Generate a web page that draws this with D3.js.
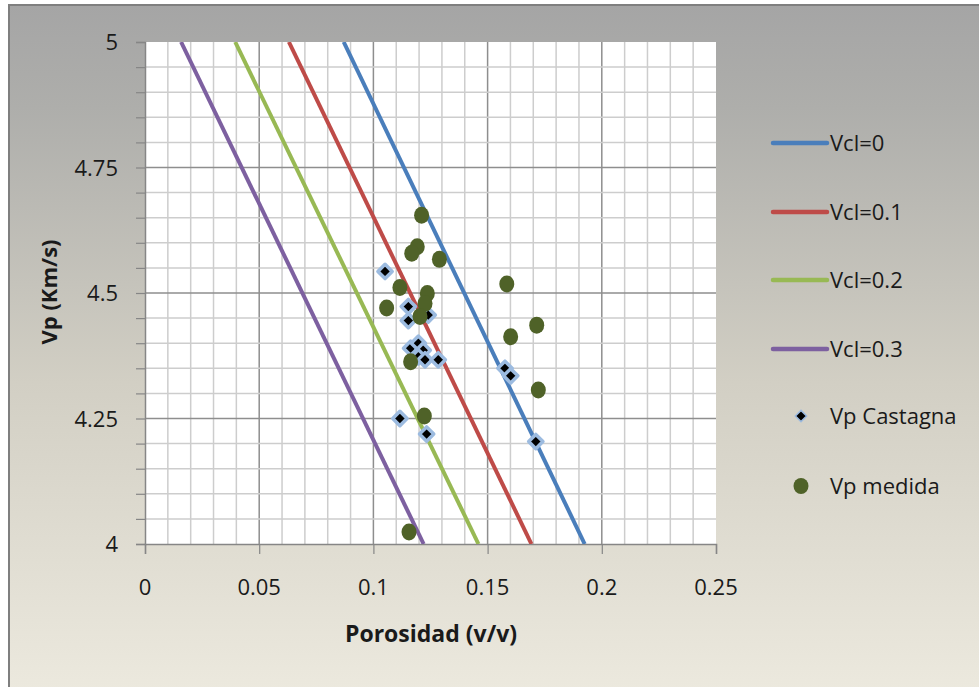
<!DOCTYPE html>
<meta charset="utf-8">
<script src="https://d3js.org/d3.v7.min.js"></script>
<style>
  body { margin: 0; background: #ffffff; }
  text { font-family: "Open Sans", "Noto Sans", sans-serif; fill: #1a1a1a; }
</style>
<div id="chart"></div>
<script>
  // axis ticks
  var xTicks = [0, 0.05, 0.1, 0.15, 0.2, 0.25];
  var yTicks = [4, 4.25, 4.5, 4.75, 5];

  // Vcl lines: porosity where each line crosses Vp=5 and Vp=4
  var lineNames = ["Vcl=0", "Vcl=0.1", "Vcl=0.2", "Vcl=0.3"];
  var lineTopPhi = [0.087, 0.063, 0.0395, 0.0158];
  var lineBottomPhi = [0.1925, 0.1692, 0.146, 0.122];
  var lineTopVp = 5, lineBottomVp = 4;

  // Vp Castagna
  var castagnaPhi = [0.1051, 0.1153, 0.1153, 0.1240, 0.1163, 0.1197, 0.1218, 0.1197, 0.1226, 0.1284, 0.1576, 0.1601, 0.1116, 0.1233, 0.1711];
  var castagnaVp  = [4.543, 4.473, 4.445, 4.456, 4.390, 4.400, 4.386, 4.373, 4.367, 4.367, 4.350, 4.335, 4.250, 4.219, 4.204];

  // Vp medida
  var medidaPhi = [0.1211, 0.1192, 0.1168, 0.1289, 0.1584, 0.1116, 0.1236, 0.1058, 0.1226, 0.1204, 0.1715, 0.1601, 0.1163, 0.1722, 0.1223, 0.1156];
  var medidaVp  = [4.655, 4.592, 4.579, 4.567, 4.518, 4.511, 4.499, 4.470, 4.479, 4.453, 4.436, 4.413, 4.363, 4.307, 4.255, 4.024];

  var lineColors = ["#4a7ebb", "#be4b48", "#98b954", "#7d60a0"];

  var W = 979, H = 687;
  var margin = {top: 42, left: 145},
      width = 571,
      height = 502;

  var svg = d3.select("#chart")
    .append("svg")
      .attr("width", W)
      .attr("height", H);

  var defs = svg.append("defs");
  var grad = defs.append("linearGradient")
      .attr("id", "bg")
      .attr("x1", 0).attr("y1", 0).attr("x2", 0).attr("y2", 1);
  grad.append("stop").attr("offset", "0%").attr("stop-color", "#a5a5a5");
  grad.append("stop").attr("offset", "15%").attr("stop-color", "#aeaeab");
  grad.append("stop").attr("offset", "55%").attr("stop-color", "#d2cfc4");
  grad.append("stop").attr("offset", "100%").attr("stop-color", "#ece9de");

  svg.append("rect")
    .attr("x", 9).attr("y", 5)
    .attr("width", W).attr("height", H)
    .attr("fill", "url(#bg)")
    .attr("stroke", "#7f7f7f")
    .attr("stroke-width", 2);

  var g = svg.append("g")
    .attr("transform", "translate(" + margin.left + "," + margin.top + ")");

  var x = d3.scaleLinear().domain([0, 0.25]).range([0, width]);
  var y = d3.scaleLinear().domain([4, 5]).range([height, 0]);

  g.append("rect")
    .attr("width", width).attr("height", height)
    .attr("fill", "#ffffff");

  // grid
  var xMinor = d3.range(1, 25).map(d => d / 100);
  var yMinor = d3.range(1, 20).map(d => 4 + d * 0.05);

  g.selectAll("line.xgrid")
    .data(xMinor)
    .enter().append("line")
      .attr("x1", d => x(d)).attr("x2", d => x(d))
      .attr("y1", 0).attr("y2", height)
      .attr("stroke", d => Math.round(d * 100) % 5 === 0 ? "#8e8e8e" : "#cdcdcd")
      .attr("stroke-width", 1.5);

  g.selectAll("line.ygrid")
    .data(yMinor)
    .enter().append("line")
      .attr("x1", 0).attr("x2", width)
      .attr("y1", d => y(d)).attr("y2", d => y(d))
      .attr("stroke", d => Math.round(d * 100) % 25 === 0 ? "#8e8e8e" : "#cdcdcd")
      .attr("stroke-width", 1.5);

  // axes
  var yAxis = g.append("g")
    .call(d3.axisLeft(y).tickValues(yMinor.concat([4, 5])).tickSize(9).tickFormat(""));
  yAxis.select(".domain").attr("stroke", "#868686").attr("stroke-width", 1.5);
  yAxis.selectAll(".tick line").attr("stroke", "#868686").attr("stroke-width", 1.2);

  var xAxis = g.append("g")
    .attr("transform", "translate(0," + height + ")")
    .call(d3.axisBottom(x).tickValues(xTicks).tickSize(10).tickFormat(""));
  xAxis.select(".domain").attr("stroke", "#868686").attr("stroke-width", 1.5);
  xAxis.selectAll(".tick line").attr("stroke", "#868686").attr("stroke-width", 1.2);

  g.selectAll("text.ylab")
    .data(yTicks)
    .enter().append("text")
      .attr("x", -27)
      .attr("y", d => y(d) + 8)
      .attr("text-anchor", "end")
      .style("font-size", "22px")
      .text(d => d);

  g.selectAll("text.xlab")
    .data(xTicks)
    .enter().append("text")
      .attr("x", d => x(d))
      .attr("y", height + 51)
      .attr("text-anchor", "middle")
      .style("font-size", "22px")
      .text(d => d);

  svg.append("text")
    .attr("x", 431)
    .attr("y", 642)
    .attr("text-anchor", "middle")
    .style("font-size", "23px")
    .style("font-weight", "bold")
    .text("Porosidad (v/v)");

  svg.append("text")
    .attr("transform", "translate(57,292) rotate(-90)")
    .attr("text-anchor", "middle")
    .style("font-size", "22px")
    .style("font-weight", "bold")
    .text("Vp (Km/s)");

  // Vcl lines
  var clip = defs.append("clipPath").attr("id", "plotclip");
  clip.append("rect").attr("width", width).attr("height", height);

  var plot = g.append("g").attr("clip-path", "url(#plotclip)");

  plot.selectAll("line.vcl")
    .data(lineNames)
    .enter().append("line")
      .attr("x1", (d, i) => x(lineTopPhi[i]))
      .attr("y1", y(lineTopVp))
      .attr("x2", (d, i) => x(lineBottomPhi[i]))
      .attr("y2", y(lineBottomVp))
      .attr("stroke", (d, i) => lineColors[i])
      .attr("stroke-width", 4);

  var diamond = d3.symbol().type(d3.symbolDiamond2).size(130);

  g.selectAll("path.castagna")
    .data(castagnaPhi)
    .enter().append("path")
      .attr("d", diamond)
      .attr("transform", (d, i) => "translate(" + x(d) + "," + y(castagnaVp[i]) + ")")
      .attr("fill", "#000000")
      .attr("stroke", "#9cbbe0")
      .attr("stroke-width", 3.5)
      .attr("stroke-linejoin", "round");

  g.selectAll("ellipse.medida")
    .data(medidaPhi)
    .enter().append("ellipse")
      .attr("cx", d => x(d))
      .attr("cy", (d, i) => y(medidaVp[i]))
      .attr("rx", 7.5)
      .attr("ry", 8.5)
      .attr("fill", "#4f6228");

  // legend
  var legY = [143, 212, 280, 349];
  var leg = svg.append("g");
  lineNames.forEach(function(name, i) {
    leg.append("line")
      .attr("x1", 773).attr("x2", 827)
      .attr("y1", legY[i]).attr("y2", legY[i])
      .attr("stroke", lineColors[i])
      .attr("stroke-width", 4.5)
      .attr("stroke-linecap", "round");
    leg.append("text")
      .attr("x", 830).attr("y", legY[i] + 8)
      .style("font-size", "22px")
      .text(name);
  });

  leg.append("path")
    .attr("d", d3.symbol().type(d3.symbolDiamond2).size(80))
    .attr("transform", "translate(801,416)")
    .attr("fill", "#000000")
    .attr("stroke", "#9cbbe0")
    .attr("stroke-width", 1.5);
  leg.append("text")
    .attr("x", 830).attr("y", 424)
    .style("font-size", "22px")
    .text("Vp Castagna");

  leg.append("ellipse")
    .attr("cx", 801).attr("cy", 486)
    .attr("rx", 7.5).attr("ry", 8)
    .attr("fill", "#4f6228");
  leg.append("text")
    .attr("x", 830).attr("y", 494)
    .style("font-size", "22px")
    .text("Vp medida");
</script>
